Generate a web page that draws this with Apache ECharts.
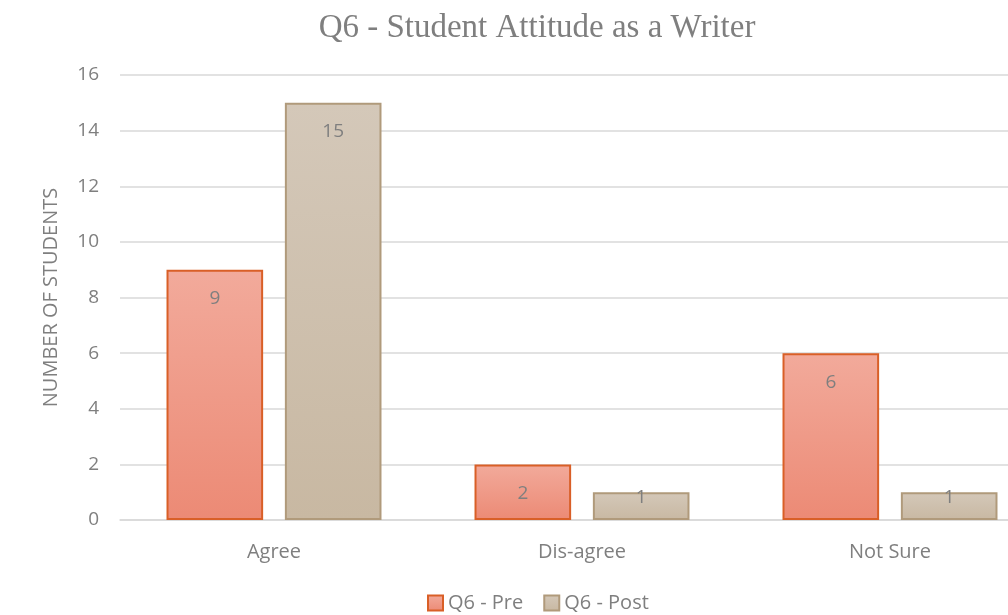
<!DOCTYPE html>
<html><head><meta charset="utf-8">
<script src="https://cdn.jsdelivr.net/npm/echarts@6/dist/echarts.min.js"></script>
<style>html,body{margin:0;padding:0;background:#fff;overflow:hidden;width:1008px;height:615px}#c{width:1080px;height:615px}</style>
</head><body><div id="c"></div>
<script>
const categories = ['Agree', 'Dis-agree', 'Not Sure'];
const preValues = [9, 2, 6];
const postValues = [15, 1, 1];
const yTicks = [0, 2, 4, 6, 8, 10, 12, 14, 16];
const seriesNames = ['Q6 - Pre', 'Q6 - Post'];

const chart = echarts.init(document.getElementById('c'));
const sans = 'Open Sans';
function grad(top, bottom) {
  return new echarts.graphic.LinearGradient(0, 0, 0, 1, [{offset: 0, color: top}, {offset: 1, color: bottom}]);
}
function items(vals) {
  return vals.map(v => v < 2 ? {value: v, label: {position: ['50%', 5]}} : v);
}
const labelCfg = {
  show: true, position: ['50%', 29], align: 'center', verticalAlign: 'middle',
  color: '#7f7f7f', fontFamily: sans, fontSize: 19
};
chart.setOption({
  animation: false,
  title: {
    text: 'Q6 - Student Attitude as a Writer', left: 532, textAlign: 'center', top: 7,
    textStyle: {fontFamily: 'Liberation Serif', fontWeight: 'normal', fontSize: 33, color: '#7f7f7f'}
  },
  legend: {
    data: seriesNames, bottom: -3, left: 422, itemWidth: 15, itemHeight: 15, itemGap: 20, icon: 'rect',
    textStyle: {fontFamily: sans, fontSize: 20, color: '#7f7f7f'}
  },
  grid: {left: 120, right: 36, top: 75, bottom: 95},
  xAxis: {
    type: 'category', data: categories,
    axisLine: {lineStyle: {color: '#d9d9d9', width: 1.5}}, axisTick: {show: false},
    axisLabel: {color: '#7f7f7f', fontFamily: sans, fontSize: 20, margin: 22}
  },
  yAxis: {
    type: 'value', min: yTicks[0], max: yTicks[yTicks.length - 1], interval: 2,
    name: 'NUMBER OF STUDENTS', nameLocation: 'middle', nameGap: 59, nameRotate: 90,
    nameTextStyle: {color: '#7f7f7f', fontFamily: sans, fontSize: 20},
    axisLine: {show: false}, axisTick: {show: false},
    axisLabel: {color: '#7f7f7f', fontFamily: sans, fontSize: 19, margin: 21},
    splitLine: {lineStyle: {color: '#d9d9d9', width: 1.5}}
  },
  series: [
    {
      name: seriesNames[0], type: 'bar', data: items(preValues), barGap: '22.5%', barCategoryGap: '30.2%',
      itemStyle: {color: grad('#f2aa9b', '#ec8a75'), borderColor: '#d95f27', borderWidth: 2},
      label: labelCfg
    },
    {
      name: seriesNames[1], type: 'bar', data: items(postValues),
      itemStyle: {color: grad('#d4c8b9', '#c8b8a2'), borderColor: '#b09a7b', borderWidth: 2},
      label: labelCfg
    }
  ]
});
</script></body></html>
